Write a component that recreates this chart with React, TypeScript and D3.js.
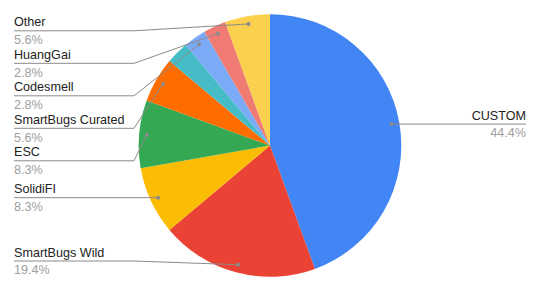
import React from "react";
import * as d3 from "d3";

const categories = ["CUSTOM", "SmartBugs Wild", "SolidiFI", "ESC", "SmartBugs Curated", "Unlabeled", "Codesmell", "HuangGai", "Other"];
const counts = [16, 7, 3, 3, 2, 1, 1, 1, 2];
const showLabel = [true, true, true, true, true, false, true, true, true];
const colors = ["#4285F4", "#EA4335", "#FBBC04", "#34A853", "#FF6D01", "#46BDC6", "#7BAAF7", "#F07B72", "#FCD04F"];

const W = 540, H = 292;
const cx = 270, cy = 145.5, R = 131.3;
const FONT = "Arial, 'Liberation Sans', sans-serif";

export default function App() {
  const total = d3.sum(counts);
  const pie = d3.pie<number>().sort(null).value((d) => d);
  const arcs = pie(counts);
  const arcGen = d3.arc<d3.PieArcDatum<number>>().innerRadius(0).outerRadius(R);
  const fmt = d3.format(".1%");

  const labels = arcs
    .map((a, i) => {
      const mid = (a.startAngle + a.endAngle) / 2;
      const dr = R * 0.94;
      const dx = cx + dr * Math.sin(mid);
      const dy = cy - dr * Math.cos(mid);
      return { i, mid, dx, dy, y: dy, side: mid < Math.PI ? "right" : "left" };
    })
    .filter((l) => showLabel[l.i]);

  // collision resolution for left labels
  const left = labels.filter((l) => l.side === "left").sort((a, b) => a.dy - b.dy);
  const gap = 32.5, minY = 30.8, maxY = 261;
  left.forEach((l, k) => {
    l.y = Math.max(l.dy, k === 0 ? minY : left[k - 1].y + gap);
  });
  for (let k = left.length - 1; k >= 0; k--) {
    l_fix(k);
  }
  function l_fix(k: number) {
    const lim = k === left.length - 1 ? maxY : left[k + 1].y - gap;
    if (left[k].y > lim) left[k].y = lim;
  }

  return (
    <svg width={W} height={H} style={{ position: "fixed", left: 0, top: 0, background: "#fff" }}>
      <g transform={`translate(${cx},${cy})`}>
        {arcs.map((a, i) => (
          <path key={i} d={arcGen(a) || ""} fill={colors[i]} />
        ))}
      </g>
      {labels.map((l) => {
        const isLeft = l.side === "left";
        const path = isLeft
          ? `M14,${l.y}L134,${l.y}L${l.dx},${l.dy}`
          : `M526,${l.y}L${Math.max(l.dx, 400)},${l.y}L${l.dx},${l.dy}`;
        const tx = isLeft ? 14 : 526;
        const anchor = isLeft ? "start" : "end";
        return (
          <g key={l.i}>
            <path d={path} fill="none" stroke="#8a8a8a" strokeWidth={1} />
            <circle cx={l.dx} cy={l.dy} r={2} fill="#8a8a8a" />
            <text x={tx} y={l.y - 4.5} textAnchor={anchor} fontFamily={FONT} fontSize={12.6} fill="#222">
              {categories[l.i]}
            </text>
            <text x={tx} y={l.y + 13.3} textAnchor={anchor} fontFamily={FONT} fontSize={12.6} fill="#9e9e9e">
              {fmt(counts[l.i] / total)}
            </text>
          </g>
        );
      })}
    </svg>
  );
}
